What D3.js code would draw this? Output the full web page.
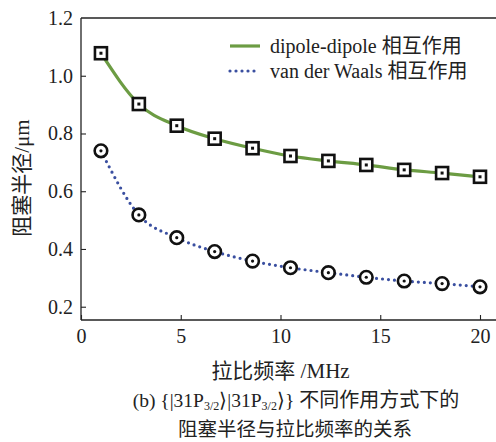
<!DOCTYPE html>
<html>
<head>
<meta charset="utf-8">
<script src="https://cdn.jsdelivr.net/npm/d3@7"></script>
<style>
  body { margin: 0; background: #fff; }
  text { font-family: "Liberation Serif", "Noto Sans CJK SC", serif; fill: #222; }
</style>
</head>
<body>
<div id="chart"></div>
<script>
// Rabi frequency (MHz) sample points
var rabi = [1, 2.9, 4.8, 6.7, 8.6, 10.5, 12.4, 14.3, 16.2, 18.1, 20];
// blockade radius (um)
var dipole_r = [1.078, 0.902, 0.827, 0.782, 0.749, 0.722, 0.705, 0.691, 0.674, 0.663, 0.650];
var vdw_r = [0.740, 0.518, 0.439, 0.391, 0.358, 0.335, 0.318, 0.302, 0.289, 0.280, 0.269];
var x_ticks = [0, 5, 10, 15, 20];
var y_ticks = [0.2, 0.4, 0.6, 0.8, 1.0, 1.2];
var legend_labels = ['dipole-dipole 相互作用', 'van der Waals 相互作用'];

var width = 496, height = 442;
var plot_left = 81, plot_right = 480, plot_top = 18, plot_bottom = 320;
var green = '#6c9c43', blue = '#3a4fa0';

var svg = d3.select('#chart').append('svg:svg')
  .attr('width', width)
  .attr('height', height);

var x = d3.scaleLinear().domain([0, 20]).range([plot_left, plot_right]);
var y = d3.scaleLinear().domain([0.154, 1.2]).range([plot_bottom, plot_top]);

// frame: top line and bottom axis run to the right edge
svg.append('line')
  .attr('x1', plot_left).attr('x2', width).attr('y1', plot_top).attr('y2', plot_top)
  .attr('stroke', '#222').attr('stroke-width', 1.3);

let xa = svg.append('g')
  .attr('transform', 'translate(0,' + plot_bottom + ')')
  .call(d3.axisBottom(x).tickValues(x_ticks).tickSize(-5).tickPadding(9).tickFormat(d3.format('d')));
xa.select('.domain').attr('d', 'M' + plot_left + ',0H' + width);

let ya = svg.append('g')
  .attr('transform', 'translate(' + plot_left + ',0)')
  .call(d3.axisLeft(y).tickValues(y_ticks).tickSize(-5).tickPadding(8).tickFormat(d3.format('.1f')));
ya.select('.domain').attr('d', 'M0,' + plot_top + 'V' + plot_bottom);

svg.selectAll('.domain').attr('stroke', '#222').attr('stroke-width', 1.3);
svg.selectAll('.tick line').attr('stroke', '#222').attr('stroke-width', 1.1);
svg.selectAll('.tick text')
  .attr('font-size', 20)
  .attr('font-family', '"Liberation Serif", serif')
  .attr('fill', '#222');
ya.selectAll('.tick').filter(d => d === 1.2).select('line').remove();

let line = d3.line()
  .x((d, i) => x(rabi[i]))
  .y(d => y(d))
  .curve(d3.curveMonotoneX);

svg.append('path')
  .attr('d', line(dipole_r))
  .attr('fill', 'none')
  .attr('stroke', green)
  .attr('stroke-width', 3.2);

svg.append('path')
  .attr('d', line(vdw_r))
  .attr('fill', 'none')
  .attr('stroke', blue)
  .attr('stroke-width', 3.2)
  .attr('stroke-linecap', 'round')
  .attr('stroke-dasharray', '0,6');

// square markers
let sq = svg.append('g').selectAll('g')
  .data(dipole_r)
  .join('g')
  .attr('transform', (d, i) => 'translate(' + x(rabi[i]) + ',' + y(d) + ')');
sq.append('rect')
  .attr('x', -6).attr('y', -6).attr('width', 12).attr('height', 12)
  .attr('fill', '#fff').attr('stroke', '#111').attr('stroke-width', 2.6);
sq.append('rect')
  .attr('x', -1.5).attr('y', -1.5).attr('width', 3).attr('height', 3)
  .attr('fill', '#111');

// circle markers
let ci = svg.append('g').selectAll('g')
  .data(vdw_r)
  .join('g')
  .attr('transform', (d, i) => 'translate(' + x(rabi[i]) + ',' + y(d) + ')');
ci.append('circle')
  .attr('r', 6.3)
  .attr('fill', '#fff').attr('stroke', '#111').attr('stroke-width', 2.6);
ci.append('circle')
  .attr('r', 1.6)
  .attr('fill', '#111');

// legend
let legend = svg.append('g')
  .attr('transform', 'translate(230,46)')
  .selectAll('g')
  .data(legend_labels)
  .join('g')
  .attr('transform', (d, i) => 'translate(0,' + i * 25 + ')');
legend.append('line')
  .attr('x1', 0).attr('x2', 30).attr('y1', 0).attr('y2', 0)
  .attr('stroke', (d, i) => i === 0 ? green : blue)
  .attr('stroke-width', 3.2)
  .attr('stroke-linecap', (d, i) => i === 0 ? 'butt' : 'round')
  .attr('stroke-dasharray', (d, i) => i === 0 ? null : '0,6');
legend.append('text')
  .attr('x', 40)
  .attr('dominant-baseline', 'central')
  .attr('font-size', 20)
  .text(d => d);

// axis titles
svg.append('text')
  .attr('transform', 'translate(22,178) rotate(-90)')
  .attr('text-anchor', 'middle')
  .attr('dominant-baseline', 'central')
  .attr('font-size', 21)
  .text('阻塞半径/μm');

svg.append('text')
  .attr('x', (plot_left + plot_right) / 2)
  .attr('y', 371)
  .attr('text-anchor', 'middle')
  .attr('dominant-baseline', 'central')
  .attr('font-size', 21)
  .text('拉比频率 /MHz');

// caption
let cap = svg.append('text')
  .attr('x', 296)
  .attr('y', 407)
  .attr('text-anchor', 'middle')
  .attr('font-size', 20);
cap.append('tspan').attr('font-size', 19.5).text('(b) {|31P');
cap.append('tspan').attr('font-size', 12).attr('dy', 3).text('3/2');
cap.append('tspan').attr('font-size', 19.5).attr('dy', -3).text('⟩|31P');
cap.append('tspan').attr('font-size', 12).attr('dy', 3).text('3/2');
cap.append('tspan').attr('font-size', 19.5).attr('dy', -3).text('⟩}');
cap.append('tspan').text(' 不同作用方式下的');

svg.append('text')
  .attr('x', 295)
  .attr('y', 436)
  .attr('text-anchor', 'middle')
  .attr('font-size', 19.5)
  .text('阻塞半径与拉比频率的关系');
</script>
</body>
</html>
